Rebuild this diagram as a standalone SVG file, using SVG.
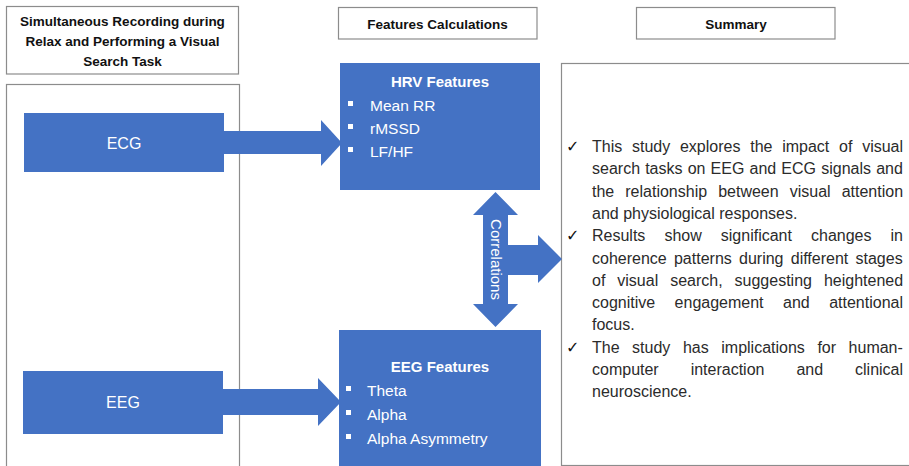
<svg xmlns="http://www.w3.org/2000/svg" width="909" height="466" viewBox="0 0 909 466">
<style>
.frame{fill:#ffffff;stroke:#8c8c8c;stroke-width:1.2}
.blue{fill:#4472c4}
.hdr{font-family:"Liberation Sans",Arial,sans-serif;font-weight:bold;font-size:13.5px;fill:#111;text-anchor:middle}
.lbl{font-family:"Liberation Sans",Arial,sans-serif;font-size:16px;fill:#fff;text-anchor:middle}
.ftitle{font-family:"Liberation Sans",Arial,sans-serif;font-weight:bold;font-size:15px;fill:#fff;text-anchor:middle}
.item{font-family:"Liberation Sans",Arial,sans-serif;font-size:15.5px;fill:#fff}
.bul{fill:#fff}
.sum{font-family:"Liberation Sans",Arial,sans-serif;font-size:16px;fill:#2b2b2b}
.chk{font-family:"DejaVu Sans",sans-serif;font-size:16px;fill:#111}
</style>
<rect width="909" height="466" fill="#ffffff"/>

<g id="header-recording">
<rect class="frame" x="6.5" y="6.5" width="232" height="67.5"/>
<text class="hdr" x="122.5" y="26">Simultaneous Recording during</text>
<text class="hdr" x="122.5" y="46">Relax and Performing a Visual</text>
<text class="hdr" x="122.5" y="65.5">Search Task</text>
</g>

<g id="header-features">
<rect class="frame" x="338.5" y="7.5" width="198.5" height="31.5"/>
<text class="hdr" x="437.5" y="29">Features Calculations</text>
</g>

<g id="header-summary">
<rect class="frame" x="636.5" y="7.5" width="198.5" height="31.5"/>
<text class="hdr" x="736" y="29">Summary</text>
</g>

<g id="recording-panel">
<rect class="frame" x="6.5" y="84.5" width="233" height="400"/>
</g>

<g id="summary-panel">
<rect class="frame" x="561.5" y="63.5" width="360" height="402"/>
</g>

<g id="ecg">
<rect class="blue" x="24" y="113" width="200" height="59"/>
<text class="lbl" x="124" y="148.5">ECG</text>
</g>

<g id="eeg">
<rect class="blue" x="23" y="371" width="200" height="63"/>
<text class="lbl" x="123" y="408">EEG</text>
</g>

<g id="connectors">
<polygon class="blue" points="224,131 321,131 321,120 342,143 321,166 321,154 224,154"/>
<polygon class="blue" points="223,389 318,389 318,378 341,402 318,426 318,415 223,415"/>
<polygon id="correlations-arrow" class="blue" points="495.5,192 518,215 508,215 508,245 538,245 538,235 562,259 538,283 538,275 508,275 508,304 518,304 495.5,327 473,304 483,304 483,215 473,215"/>
<text class="lbl" transform="translate(490.5,259.5) rotate(90)" x="0" y="0" style="font-size:15px">Correlations</text>
</g>

<g id="hrv-features">
<rect class="blue" x="340" y="63" width="200" height="127"/>
<text class="ftitle" x="440" y="87">HRV Features</text>
<rect class="bul" x="348" y="101" width="5" height="5"/>
<text class="item" x="370" y="111">Mean RR</text>
<rect class="bul" x="348" y="124" width="5" height="5"/>
<text class="item" x="370" y="134">rMSSD</text>
<rect class="bul" x="348" y="147" width="5" height="5"/>
<text class="item" x="370" y="157">LF/HF</text>
</g>

<g id="eeg-features">
<rect class="blue" x="339" y="330" width="202" height="140"/>
<text class="ftitle" x="440" y="372">EEG Features</text>
<rect class="bul" x="346" y="386" width="5" height="5"/>
<text class="item" x="367" y="396">Theta</text>
<rect class="bul" x="346" y="410" width="5" height="5"/>
<text class="item" x="367" y="420">Alpha</text>
<rect class="bul" x="346" y="434" width="5" height="5"/>
<text class="item" x="367" y="444">Alpha Asymmetry</text>
</g>

<g id="summary-text">
<text class="chk" x="566" y="152">✓</text>
<text class="chk" x="566" y="241">✓</text>
<text class="chk" x="566" y="353">✓</text>
<text class="sum" x="592" y="152" word-spacing="5.3">This study explores the impact of visual</text>
<text class="sum" x="592" y="174.3" word-spacing="0.7">search tasks on EEG and ECG signals and</text>
<text class="sum" x="592" y="196.6" word-spacing="6.6">the relationship between visual attention</text>
<text class="sum" x="592" y="218.9">and physiological responses.</text>
<text class="sum" x="592" y="241.2" word-spacing="14.6">Results show significant changes in</text>
<text class="sum" x="592" y="263.5" word-spacing="2.8">coherence patterns during different stages</text>
<text class="sum" x="592" y="285.8" word-spacing="7.5">of visual search, suggesting heightened</text>
<text class="sum" x="592" y="308.1" word-spacing="15">cognitive engagement and attentional</text>
<text class="sum" x="592" y="330.4">focus.</text>
<text class="sum" x="592" y="352.7" word-spacing="8.1">The study has implications for human-</text>
<text class="sum" x="592" y="375" word-spacing="27.5">computer interaction and clinical</text>
<text class="sum" x="592" y="397.3">neuroscience.</text>
</g>
</svg>
